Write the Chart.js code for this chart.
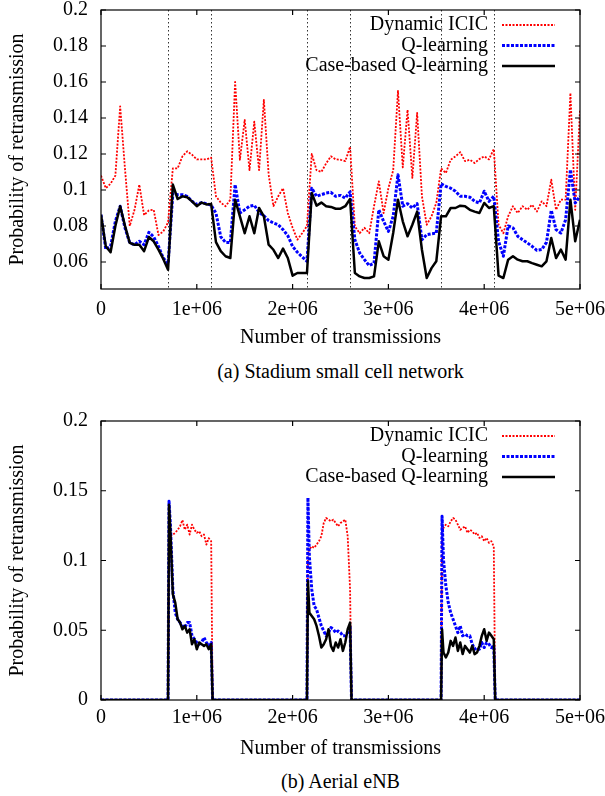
<!DOCTYPE html>
<html>
<head>
<meta charset="utf-8">
<script src="https://cdn.jsdelivr.net/npm/chart.js@4.4.1/dist/chart.umd.min.js"></script>
<style>
  html, body { margin: 0; padding: 0; background: #fff; }
  body { width: 605px; height: 796px; position: relative; overflow: hidden; font-family: 'Liberation Serif', 'Times New Roman', serif; }
  .box { position: absolute; left: 0; width: 605px; height: 350px; }
  .caption { position: absolute; left: 101px; width: 479px; text-align: center; font-size: 20px; line-height: 24px; color: #000; }
</style>
</head>
<body>
<div class="box" style="top:0"><canvas id="chartStadium"></canvas></div>
<div class="caption" style="top:359px">(a) Stadium small cell network</div>
<div class="box" style="top:411px"><canvas id="chartAerial"></canvas></div>
<div class="caption" style="top:769px">(b) Aerial eNB</div>
<script>
// ── data ──
const seriesNames = ['Dynamic ICIC', 'Q-learning', 'Case-based Q-learning']

// (a) stadium: samples every 50k transmissions (values in thousands)
const xStadiumK = [
  0, 50, 100, 150, 200, 250, 300, 350, 400, 450,
  500, 550, 600, 650, 700, 750, 800, 850, 900, 950,
  1000, 1050, 1100, 1150, 1200, 1250, 1300, 1350, 1400, 1450,
  1500, 1550, 1600, 1650, 1700, 1750, 1800, 1850, 1900, 1950,
  2000, 2050, 2100, 2150, 2200, 2250, 2300, 2350, 2400, 2450,
  2500, 2550, 2600, 2650, 2700, 2750, 2800, 2850, 2900, 2950,
  3000, 3050, 3100, 3150, 3200, 3250, 3300, 3350, 3400, 3450,
  3500, 3550, 3600, 3650, 3700, 3750, 3800, 3850, 3900, 3950,
  4000, 4050, 4100, 4150, 4200, 4250, 4300, 4350, 4400, 4450,
  4500, 4550, 4600, 4650, 4700, 4750, 4800, 4850, 4900, 4950,
  5000
]
const icicStadium = [
  0.108, 0.101, 0.1035, 0.108, 0.1465, 0.112, 0.080, 0.089, 0.103, 0.086,
  0.0887, 0.089, 0.075, 0.077, 0.082, 0.112, 0.112, 0.1187, 0.1215, 0.1196,
  0.117, 0.117, 0.117, 0.118, 0.0965, 0.093, 0.091, 0.0946, 0.160, 0.1168,
  0.139, 0.111, 0.138, 0.111, 0.150, 0.1085, 0.091, 0.0965, 0.101, 0.0872,
  0.079, 0.0724, 0.076, 0.080, 0.120, 0.111, 0.110, 0.1148, 0.1187, 0.117,
  0.1168, 0.116, 0.124, 0.0798, 0.076, 0.079, 0.076, 0.091, 0.1048, 0.0872,
  0.101, 0.111, 0.155, 0.1126, 0.1446, 0.1067, 0.1428, 0.0965, 0.0807, 0.0854,
  0.0928, 0.112, 0.1094, 0.1168, 0.1187, 0.121, 0.116, 0.1168, 0.115, 0.1172,
  0.1187, 0.117, 0.1228, 0.0807, 0.076, 0.0854, 0.091, 0.0872, 0.091, 0.089,
  0.0918, 0.088, 0.0937, 0.091, 0.1057, 0.089, 0.0946, 0.0946, 0.1539, 0.089,
  0.1446
]
const qlStadium = [
  0.0863, 0.067, 0.0687, 0.0826, 0.091, 0.079, 0.0706, 0.0696, 0.0715, 0.0696,
  0.0765, 0.074, 0.0687, 0.0622, 0.059, 0.098, 0.0974, 0.0974, 0.0965, 0.0937,
  0.092, 0.093, 0.0924, 0.0915, 0.0872, 0.074, 0.0709, 0.0709, 0.103, 0.0872,
  0.089, 0.091, 0.0915, 0.0876, 0.0857, 0.083, 0.0817, 0.0807, 0.078, 0.0746,
  0.0687, 0.0654, 0.0628, 0.0604, 0.101, 0.0965, 0.0974, 0.0983, 0.0987, 0.0965,
  0.097, 0.0955, 0.099, 0.0724, 0.065, 0.0613, 0.058, 0.0594, 0.089, 0.0826,
  0.077, 0.0854, 0.1085, 0.091, 0.0924, 0.090, 0.0924, 0.0724, 0.0752, 0.0757,
  0.076, 0.1035, 0.102, 0.101, 0.0993, 0.0965, 0.0965, 0.096, 0.0937, 0.0928,
  0.0993, 0.0937, 0.0965, 0.0715, 0.0632, 0.080, 0.079, 0.0743, 0.0724, 0.0706,
  0.0687, 0.0665, 0.0669, 0.0709, 0.0887, 0.078, 0.0761, 0.0835, 0.1113, 0.0928,
  0.0965
]
const cbqlStadium = [
  0.0863, 0.0687, 0.0654, 0.080, 0.091, 0.0802, 0.0706, 0.0696, 0.0696, 0.066,
  0.0739, 0.0715, 0.0669, 0.0617, 0.0557, 0.103, 0.095, 0.0965, 0.096, 0.0937,
  0.091, 0.093, 0.092, 0.0922, 0.071, 0.066, 0.0632, 0.0622, 0.0946, 0.0854,
  0.076, 0.0854, 0.076, 0.090, 0.0854, 0.0696, 0.0668, 0.0622, 0.0674, 0.0622,
  0.0524, 0.0539, 0.0539, 0.0539, 0.0983, 0.0913, 0.093, 0.091, 0.0906, 0.0896,
  0.0896, 0.091, 0.095, 0.0539, 0.052, 0.0511, 0.0511, 0.052, 0.0715, 0.0632,
  0.0613, 0.0761, 0.0946, 0.0826, 0.0743, 0.0807, 0.088, 0.0668, 0.0511, 0.0566,
  0.0604, 0.0854, 0.0854, 0.090, 0.090, 0.0913, 0.091, 0.089, 0.088, 0.0872,
  0.0928, 0.090, 0.091, 0.0524, 0.0511, 0.0613, 0.0632, 0.0613, 0.0604, 0.0604,
  0.0594, 0.0585, 0.0576, 0.0604, 0.0733, 0.0622, 0.0669, 0.0613, 0.0946, 0.0715,
  0.0835
]
const phaseBounds = [700000, 1150000, 2150000, 2600000, 3550000, 4100000]

// (b) aerial eNB: only active inside three windows
const xAerial = [
  0, 700000, 710000, 725000, 750000, 775000, 800000, 825000, 850000, 875000, 900000,
  925000, 950000, 975000, 1000000, 1025000, 1050000, 1075000, 1100000, 1125000, 1150000, 1165000,
  2150000, 2160000, 2175000, 2200000, 2225000, 2250000, 2275000, 2300000, 2325000, 2350000, 2375000,
  2400000, 2425000, 2450000, 2475000, 2500000, 2525000, 2550000, 2575000, 2600000, 2615000,
  3550000, 3560000, 3575000, 3600000, 3625000, 3650000, 3675000, 3700000, 3725000, 3750000, 3775000,
  3800000, 3825000, 3850000, 3875000, 3900000, 3925000, 3950000, 3975000, 4000000, 4025000, 4050000,
  4075000, 4100000, 4115000,
  5000000
]
const icicAerial = [
  0, 0, 0.115, 0.1174, 0.1186, 0.1198, 0.122, 0.1245, 0.129, 0.122, 0.1257,
  0.1186, 0.1257, 0.122, 0.1198, 0.121, 0.1174, 0.1186, 0.1114, 0.116, 0.1138, 0,
  0, 0.1055, 0.1079, 0.1102, 0.109, 0.1114, 0.1138, 0.1174, 0.1269, 0.1305, 0.1293,
  0.1281, 0.1293, 0.1269, 0.1245, 0.1269, 0.1281, 0.1293, 0.1174, 0.0793, 0,
  0, 0.122, 0.1233, 0.1257, 0.1245, 0.128, 0.1305, 0.1293, 0.1257, 0.122, 0.1233,
  0.1245, 0.1198, 0.122, 0.121, 0.1186, 0.1198, 0.1162, 0.1174, 0.1138, 0.1162, 0.1126,
  0.1138, 0.110, 0,
  0
]
const qlAerial = [
  0, 0, 0.1424, 0.125, 0.079, 0.0626, 0.0579, 0.0555, 0.0531, 0.0519, 0.0555,
  0.0555, 0.046, 0.0436, 0.0412, 0.04, 0.0412, 0.0448, 0.0412, 0.0388, 0.0412, 0,
  0, 0.145, 0.103, 0.0793, 0.0674, 0.065, 0.059, 0.0531, 0.0495, 0.046, 0.0483,
  0.0519, 0.0507, 0.0483, 0.0495, 0.0483, 0.046, 0.046, 0.0483, 0.0531, 0,
  0, 0.1317, 0.1007, 0.0817, 0.0698, 0.0626, 0.0579, 0.0531, 0.0483, 0.0531, 0.046,
  0.0471, 0.046, 0.046, 0.04, 0.0364, 0.0376, 0.0364, 0.0412, 0.0376, 0.0412, 0.04,
  0.0376, 0.0388, 0,
  0
]
const cbqlAerial = [
  0, 0, 0.14, 0.12, 0.0757, 0.0698, 0.0579, 0.0555, 0.0507, 0.0531, 0.0483,
  0.0507, 0.04, 0.0436, 0.0364, 0.0412, 0.04, 0.0388, 0.04, 0.0364, 0.04, 0,
  0, 0.0852, 0.0626, 0.0602, 0.0579, 0.0531, 0.046, 0.0376, 0.04, 0.0436, 0.0507,
  0.0388, 0.0352, 0.0412, 0.0376, 0.0436, 0.0352, 0.0412, 0.0507, 0.0555, 0,
  0, 0.0507, 0.034, 0.0305, 0.034, 0.0424, 0.0388, 0.0448, 0.0352, 0.0412, 0.0329,
  0.0388, 0.0364, 0.034, 0.0388, 0.0329, 0.034, 0.0388, 0.046, 0.0507, 0.0424, 0.0483,
  0.046, 0.0436, 0,
  0
]

const xTickValues = [0, 1000000, 2000000, 3000000, 4000000, 5000000]
const xTickLabels = ['0', '1e+06', '2e+06', '3e+06', '4e+06', '5e+06']
const yTicksStadium = [0.06, 0.08, 0.1, 0.12, 0.14, 0.16, 0.18, 0.2]
const yTicksAerial = [0, 0.05, 0.1, 0.15, 0.2]

// ── styles ──
const rojo  = '#ff0000'
const azul  = '#0000ff'
const negro = '#000000'
const fontSerif = "'Liberation Serif', 'Times New Roman', serif"

Chart.defaults.font.family = fontSerif
Chart.defaults.font.size = 20
Chart.defaults.color = '#000'

// gnuplot look: frame, inward ticks, dotted phase lines, legend with text left of sample
const gnuplotFrame = {
  id: 'gnuplotFrame',
  beforeDatasetsDraw(chart, args, opts) {
    const { ctx, chartArea: a, scales: { x } } = chart
    if (!opts.bounds) return
    ctx.save()
    ctx.strokeStyle = '#333'
    ctx.lineWidth = 1
    ctx.setLineDash([1.5, 2.5])
    opts.bounds.forEach(b => {
      const px = Math.round(x.getPixelForValue(b)) + 0.5
      ctx.beginPath()
      ctx.moveTo(px, a.top)
      ctx.lineTo(px, a.bottom)
      ctx.stroke()
    })
    ctx.restore()
  },
  afterDatasetsDraw(chart) {
    const { ctx, chartArea: a, scales: { x, y } } = chart
    ctx.save()
    ctx.strokeStyle = '#000'
    ctx.lineWidth = 1.2
    ctx.setLineDash([])
    ctx.strokeRect(a.left, a.top, a.right - a.left, a.bottom - a.top)
    const t = 5
    ctx.beginPath()
    x.ticks.forEach(tk => {
      const px = x.getPixelForValue(tk.value)
      ctx.moveTo(px, a.bottom); ctx.lineTo(px, a.bottom - t)
      ctx.moveTo(px, a.top); ctx.lineTo(px, a.top + t)
    })
    y.ticks.forEach(tk => {
      const py = y.getPixelForValue(tk.value)
      ctx.moveTo(a.left, py); ctx.lineTo(a.left + t, py)
      ctx.moveTo(a.right, py); ctx.lineTo(a.right - t, py)
    })
    ctx.stroke()

    ctx.font = '20px ' + fontSerif
    ctx.textAlign = 'right'
    ctx.textBaseline = 'middle'
    chart.data.datasets.forEach((ds, i) => {
      const ly = a.top + 15 + i * 20.5
      ctx.fillStyle = '#000'
      ctx.fillText(ds.label, a.right - 92, ly)
      ctx.strokeStyle = ds.borderColor
      ctx.lineWidth = ds.borderWidth
      ctx.setLineDash(ds.borderDash || [])
      ctx.beginPath()
      ctx.moveTo(a.right - 78, ly)
      ctx.lineTo(a.right - 25, ly)
      ctx.stroke()
    })
    ctx.restore()
  }
}

function lineSet(label, xs, ys, color, width, dash, order) {
  return {
    label,
    data: xs.map((x, i) => ({ x, y: ys[i] })),
    borderColor: color,
    borderWidth: width,
    borderDash: dash,
    borderJoinStyle: 'round',
    pointRadius: 0,
    tension: 0,
    order
  }
}

function makeOptions(yMin, yTicks, xPad, bounds) {
  return {
    responsive: true,
    maintainAspectRatio: false,
    animation: false,
    devicePixelRatio: 1,
    layout: { padding: { top: 10, right: 25, left: 0, bottom: 0 } },
    scales: {
      x: {
        type: 'linear',
        min: 0,
        max: 5000000,
        grid: { display: false, drawTicks: false },
        border: { display: false },
        afterBuildTicks: s => { s.ticks = xTickValues.map(v => ({ value: v })) },
        afterFit: s => { s.height = 61; s.paddingLeft = 0; s.paddingRight = 0 },
        ticks: {
          padding: xPad,
          maxRotation: 0,
          autoSkip: false,
          callback: v => xTickLabels[xTickValues.indexOf(v)]
        },
        title: { display: true, text: 'Number of transmissions', padding: 0 }
      },
      y: {
        min: yMin,
        max: 0.2,
        grid: { display: false, drawTicks: false },
        border: { display: false },
        afterBuildTicks: s => { s.ticks = yTicks.map(v => ({ value: v })) },
        afterFit: s => { s.width = 101; s.paddingTop = 0; s.paddingBottom = 0 },
        ticks: {
          padding: 13,
          autoSkip: false,
          callback: v => String(Math.round(v * 100) / 100)
        },
        title: { display: true, text: 'Probability of retransmission', padding: { top: 6, bottom: 0 } }
      }
    },
    plugins: {
      legend: { display: false },
      tooltip: { enabled: false },
      gnuplotFrame: { bounds }
    }
  }
}

// ── (a) Stadium small cell network ──
const xStadium = xStadiumK.map(k => k * 1000)
new Chart(document.getElementById('chartStadium'), {
  type: 'line',
  data: {
    datasets: [
      lineSet(seriesNames[0], xStadium, icicStadium, rojo, 1.8, [2, 1.5], 3),
      lineSet(seriesNames[1], xStadium, qlStadium, azul, 3, [3, 1.5], 2),
      lineSet(seriesNames[2], xStadium, cbqlStadium, negro, 2.5, [], 1)
    ]
  },
  options: makeOptions(0.045, yTicksStadium, 9, phaseBounds),
  plugins: [gnuplotFrame]
})

// ── (b) Aerial eNB ──
new Chart(document.getElementById('chartAerial'), {
  type: 'line',
  data: {
    datasets: [
      lineSet(seriesNames[0], xAerial, icicAerial, rojo, 1.8, [2, 1.5], 3),
      lineSet(seriesNames[1], xAerial, qlAerial, azul, 3, [3, 1.5], 2),
      lineSet(seriesNames[2], xAerial, cbqlAerial, negro, 2.5, [], 1)
    ]
  },
  options: makeOptions(0, yTicksAerial, 6, null),
  plugins: [gnuplotFrame]
})
</script>
</body>
</html>
